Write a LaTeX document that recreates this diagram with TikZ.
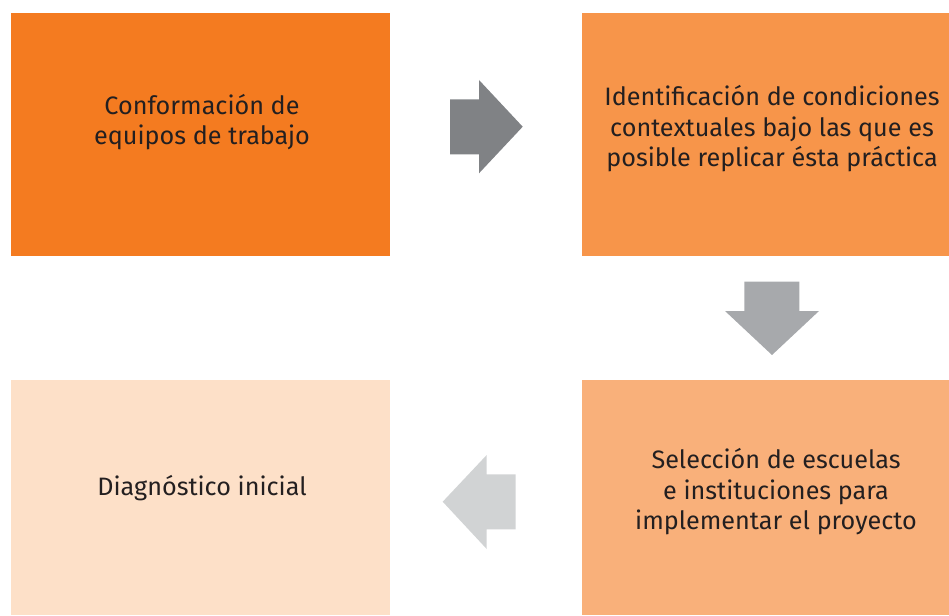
\documentclass[tikz,border=0pt]{standalone}
\usepackage{fontspec}
\setmainfont{Fira Sans}
\definecolor{boxA}{HTML}{F47B20}
\definecolor{boxB}{HTML}{F7954A}
\definecolor{boxC}{HTML}{F9B07A}
\definecolor{boxD}{HTML}{FDE0C8}
\definecolor{arrA}{HTML}{808285}
\definecolor{arrB}{HTML}{A7A9AC}
\definecolor{arrC}{HTML}{D1D3D4}
\definecolor{txt}{HTML}{231F20}
\begin{document}
\begin{tikzpicture}[x=1pt,y=-1pt,
  stepbox/.style={draw=none,inner sep=0pt,outer sep=0pt,anchor=north west},
  steptext/.style={text=txt,align=center,inner sep=0pt,font=\fontsize{25.2}{30.5}\selectfont}]
\useasboundingbox (0,0) rectangle (949,615);
% boxes
\node[stepbox,fill=boxA,minimum width=379pt,minimum height=243pt] (b1) at (11,13) {};
\node[stepbox,fill=boxB,minimum width=367pt,minimum height=243pt] (b2) at (582,13) {};
\node[stepbox,fill=boxC,minimum width=367pt,minimum height=235pt] (b3) at (582,380) {};
\node[stepbox,fill=boxD,minimum width=379pt,minimum height=235pt] (b4) at (11,380) {};
% texts
\node[steptext] (t1) at (202,122) {Conformación de\\equipos de trabajo};
\node[steptext] (t2) at (772,129) {Identificación de condiciones\\contextuales bajo las que es\\posible replicar ésta práctica};
\node[steptext] (t3) at (776,492) {Selección de escuelas\\e instituciones para\\implementar el proyecto};
\node[steptext] (t4) at (202,488) {Diagnóstico inicial};
% arrows
\fill[arrA] (450,99.5) -- (479,99.5) -- (479,80) -- (522.7,126.7) -- (479,173.3) -- (479,154.3) -- (450,154.3) -- cycle;
\fill[arrB] (744.3,281.7) -- (799.3,281.7) -- (799.3,311) -- (819,311) -- (772,355) -- (725,311) -- (744.3,311) -- cycle;
\fill[arrC] (515.7,474.3) -- (486.7,474.3) -- (486.7,455) -- (442.7,501.7) -- (486.7,549) -- (486.7,529.3) -- (515.7,529.3) -- cycle;
\end{tikzpicture}
\end{document}
